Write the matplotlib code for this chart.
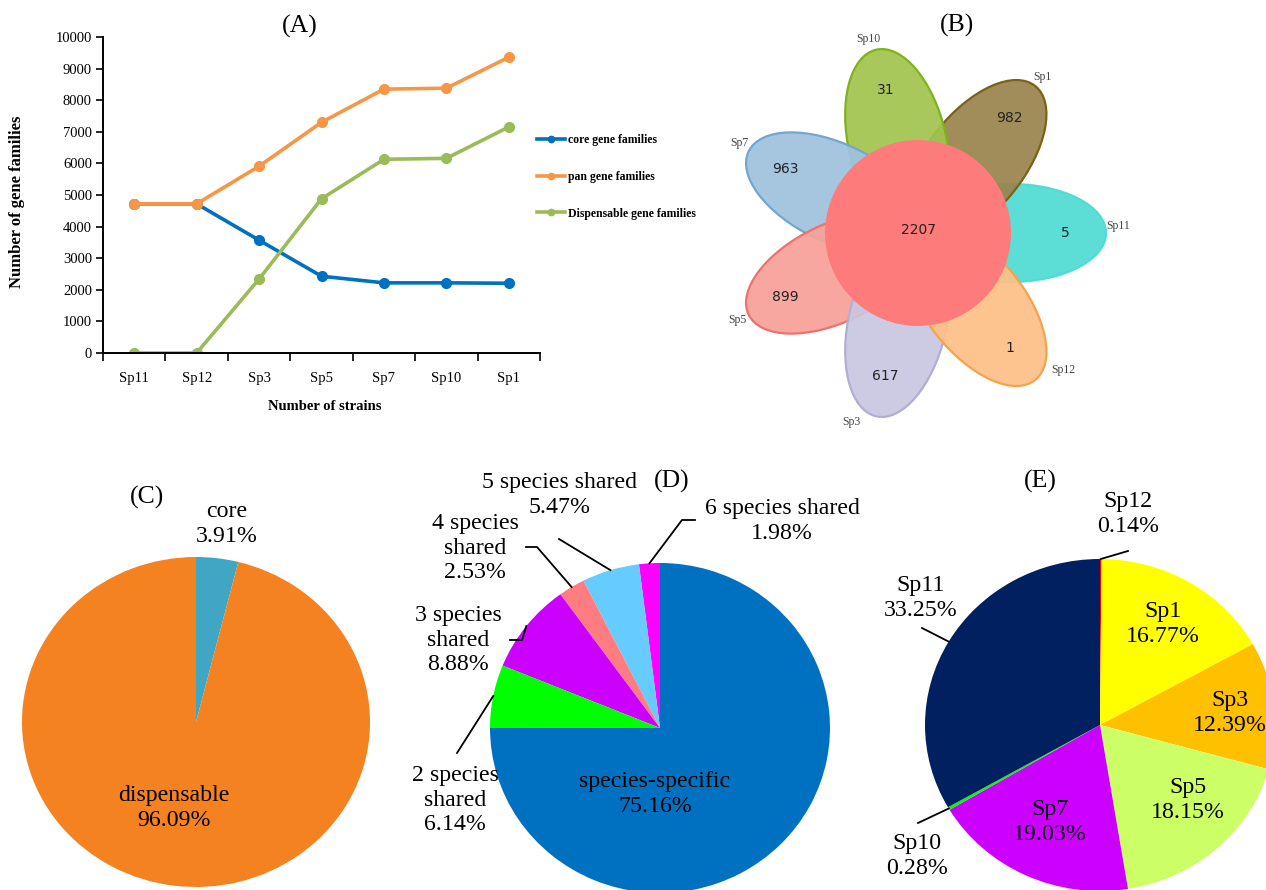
import numpy as np
import matplotlib
matplotlib.use('Agg')
import matplotlib.pyplot as plt
from matplotlib.patches import Ellipse, Circle
from matplotlib.colors import to_rgba

plt.rcParams['font.family'] = 'Liberation Serif'

W, H = 1266, 890

# (A) gene family accumulation
strains = ['Sp11', 'Sp12', 'Sp3', 'Sp5', 'Sp7', 'Sp10', 'Sp1']
core = [4720, 4720, 3570, 2430, 2220, 2220, 2207]
pan = [4720, 4720, 5910, 7300, 8350, 8380, 9360]
dispensable = [0, 0, 2340, 4880, 6130, 6160, 7153]

# (B) flower plot, petals counter-clockwise from the right
petal_names = ['Sp11', 'Sp1', 'Sp10', 'Sp7', 'Sp5', 'Sp3', 'Sp12']
petal_counts = [5, 982, 31, 963, 899, 617, 1]
core_count = 2207

# (C) core vs dispensable
c_labels = ['core', 'dispensable']
c_values = [3.91, 96.09]

# (D) sharing level
d_labels = ['6 species shared', '5 species shared', '4 species\nshared',
            '3 species\nshared', '2 species\nshared', 'species-specific']
d_values = [1.98, 5.47, 2.53, 8.88, 6.14, 75.16]

# (E) per species
e_labels = ['Sp12', 'Sp1', 'Sp3', 'Sp5', 'Sp7', 'Sp10', 'Sp11']
e_values = [0.14, 16.77, 12.39, 18.15, 19.03, 0.28, 33.25]


def px_box(x0, y0, x1, y1):
    return [x0 / W, 1 - y1 / H, (x1 - x0) / W, (y1 - y0) / H]


fig = plt.figure(figsize=(W / 100, H / 100), dpi=100)

# ---------------- (A) ----------------
ax = fig.add_axes(px_box(103, 37, 540, 353))
x = np.arange(len(strains))
ax.plot(x, core, color='#0070c0', lw=2.6, marker='o', ms=7, label='core gene families')
ax.plot(x, pan, color='#f79646', lw=2.6, marker='o', ms=7, label='pan gene families')
ax.plot(x, dispensable, color='#9bbb59', lw=2.6, marker='o', ms=7,
        label='Dispensable gene families')
ax.set_xlim(-0.5, 6.5)
ax.set_ylim(0, 10000)
ax.set_yticks(range(0, 10001, 1000))
ax.set_xticks(x)
ax.set_xticklabels(strains)
ax.set_xticks(np.arange(-0.5, 7, 1), minor=True)
ax.tick_params(axis='x', which='major', length=0, pad=14, labelsize=10.5)
ax.tick_params(axis='x', which='minor', length=6, width=1.2, direction='out')
ax.tick_params(axis='y', length=5, width=1.2, direction='out', labelsize=10.5, pad=3)
for s in ['top', 'right']:
    ax.spines[s].set_visible(False)
for s in ['left', 'bottom']:
    ax.spines[s].set_linewidth(1.4)
ax.set_ylabel('Number of gene families', fontweight='bold', fontsize=12)
ax.yaxis.set_label_coords(-0.178, 0.48)
ax.set_xlabel('Number of strains', fontweight='bold', fontsize=10.5)
ax.xaxis.set_label_coords(0.508, -0.15)
ax.legend(loc='upper left', bbox_to_anchor=(537 / W, 1 - 134 / H),
          bbox_transform=fig.transFigure, frameon=False, borderpad=0,
          borderaxespad=0, handlelength=2.4, handletextpad=0.2,
          labelspacing=2.1, markerscale=0.65, prop={'weight': 'bold', 'size': 8.5})

# ---------------- (B) ----------------
bx = fig.add_axes(px_box(720, 0, 1266, 430))
bx.set_xlim(720, 1266)
bx.set_ylim(430, 0)
bx.axis('off')
cx, cy = 918, 233
petal_face = ['#50dcd4', '#9a844c', '#a2c44e', '#9fc2de', '#f8a199', '#c9c7e1', '#fdc087']
petal_edge = ['#50dcd4', '#7a6318', '#7cb518', '#74a6d0', '#f07070', '#b1aed1', '#f6a24a']
label_shift = [2, 0, 1.5, -1, 0, -6.5, 8]
for i, (name, n) in enumerate(zip(petal_names, petal_counts)):
    deg = i * 360 / 7
    t = np.deg2rad(deg)
    ex, ey = cx + 92 * np.cos(t), cy - 92 * np.sin(t)
    bx.add_patch(Ellipse((ex, ey), 192, 98, angle=-deg,
                         facecolor=to_rgba(petal_face[i], 0.93),
                         edgecolor=petal_edge[i], lw=1.6))
    bx.text(cx + 147 * np.cos(t), cy - 147 * np.sin(t), str(n),
            ha='center', va='center', fontsize=10, color='#222222',
            family='DejaVu Sans')
    tl = np.deg2rad(deg + label_shift[i])
    bx.text(cx + 200 * np.cos(tl), cy - 200 * np.sin(tl), name,
            ha='center', va='center', fontsize=8.5, color='#444444')
bx.add_patch(Circle((cx, cy), 93, facecolor='#fe7b7b', edgecolor='none'))
bx.text(cx, cy - 3, str(core_count), ha='center', va='center', fontsize=10,
        color='#222222', family='DejaVu Sans')


# ---------------- pies ----------------
def make_pie(box, values, colors, counterclock):
    x0, y0, x1, y1 = box
    pax = fig.add_axes(px_box(*box))
    wedges, _ = pax.pie(values, colors=colors, startangle=90,
                        counterclock=counterclock, radius=1,
                        wedgeprops={'linewidth': 0})
    pax.set_aspect('auto')
    pax.set_xlim(-1, 1)
    pax.set_ylim(-1, 1)
    pcx, pcy = (x0 + x1) / 2, (y0 + y1) / 2
    rx, ry = (x1 - x0) / 2, (y1 - y0) / 2

    def to_data(px, py):
        return (px - pcx) / rx, (pcy - py) / ry

    return pax, wedges, to_data


def rim_point(w):
    a = np.deg2rad((w.theta1 + w.theta2) / 2)
    return np.cos(a), np.sin(a)


pie_font = 17.2

# (C)
cax, cw, c_pt = make_pie((22, 557, 370, 887), c_values, ['#40a6c4', '#f58220'], False)
c_pos = [(227, 524), (174, 808)]
for lab, v, p in zip(c_labels, c_values, c_pos):
    cax.text(*c_pt(*p), f'{lab}\n{v:.2f}%', ha='center', va='center',
             fontsize=pie_font)

# (D)
d_colors = ['#ff00ff', '#66ccff', '#ff7c80', '#cc00ff', '#00ff00', '#0070c0']
dax, dw, d_pt = make_pie((490, 563, 830, 893), d_values, d_colors, True)
d_pos = [(782, 521), (560, 495), (475, 548), (458, 640), (455, 800), (655, 794)]
d_leader = [[(695, 520), (682, 520)], [(559, 539)], [(526, 547), (537, 547)],
            [(510, 640), (522, 640)], [(457, 753)], None]
for lab, v, p, w, lead in zip(d_labels, d_values, d_pos, dw, d_leader):
    dax.text(*d_pt(*p), f'{lab}\n{v:.2f}%', ha='center', va='center',
             fontsize=pie_font)
    if lead:
        pts = [d_pt(*q) for q in lead] + [rim_point(w)]
        xs, ys = zip(*pts)
        dax.plot(xs, ys, color='black', lw=1.3, clip_on=False)

# (E)
e_colors = ['#ff0000', '#ffff00', '#ffc000', '#ccff66', '#cc00ff', '#00ff00', '#002060']
eax, ew, e_pt = make_pie((925, 559, 1275, 891), e_values, e_colors, False)
e_pos = [(1128, 514), (1163, 624), (1230, 713), (1188, 800), (1050, 822),
         (917, 856), (921, 598)]
e_leader = [[(1128, 551)], None, None, None, None, [(918, 823)], [(922, 628)]]
for lab, v, p, w, lead in zip(e_labels, e_values, e_pos, ew, e_leader):
    eax.text(*e_pt(*p), f'{lab}\n{v:.2f}%', ha='center', va='center',
             fontsize=pie_font)
    if lead:
        pts = [e_pt(*q) for q in lead] + [rim_point(w)]
        xs, ys = zip(*pts)
        eax.plot(xs, ys, color='black', lw=1.3, clip_on=False)

# panel letters
for letter, (px, py) in zip('ABCDE', [(300, 26), (957, 25), (147, 497),
                                      (672, 481), (1040, 481)]):
    fig.text(px / W, 1 - py / H, f'({letter})', ha='center', va='center',
             fontsize=18.5)

fig.savefig('out.png', dpi=100)
